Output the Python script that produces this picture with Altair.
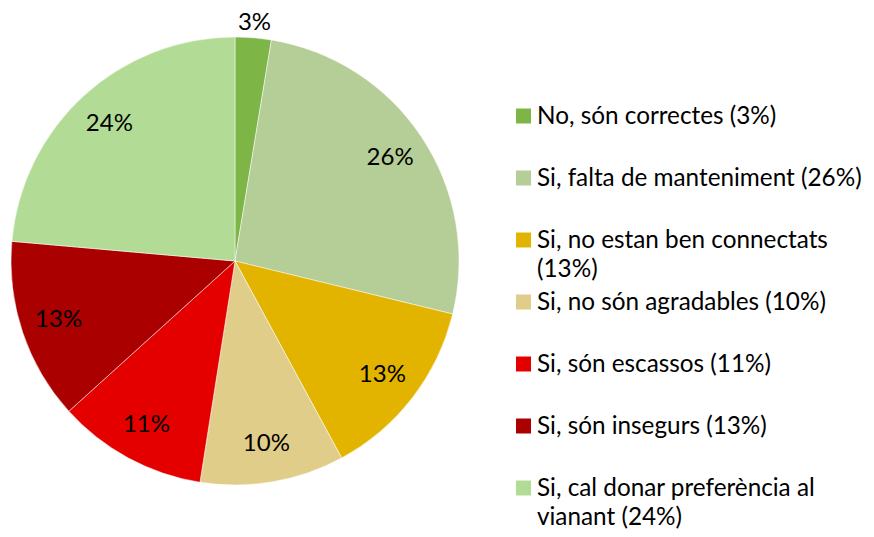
import altair as alt
import pandas as pd

categories = [
    "No, són correctes (3%)",
    "Si, falta de manteniment (26%)",
    "Si, no estan ben connectats\n(13%)",
    "Si, no són agradables  (10%)",
    "Si, són escassos (11%)",
    "Si, són insegurs (13%)",
    "Si, cal donar preferència al\nvianant (24%)",
]
values = [2.6, 26.2, 13.3, 10.4, 10.8, 13.1, 23.6]
pct_labels = ["3%", "26%", "13%", "10%", "11%", "13%", "24%"]
colors = ["#7db647", "#b5cd96", "#e2b400", "#e1cd8a", "#e50000", "#ab0000", "#b2dc95"]

df = pd.DataFrame({
    "cat": categories,
    "value": values,
    "label": pct_labels,
    "order": list(range(len(categories))),
    "outside": [True] + [False] * (len(categories) - 1),
})

# chart origin is at page (8, 18)
CX, CY = 227, 243

base = alt.Chart(df)
color = alt.Color("cat:N", scale=alt.Scale(domain=categories, range=colors), legend=None)
theta = alt.Theta("value:Q", stack=True)
order = alt.Order("order:Q", sort="ascending")

pie = base.mark_arc(outerRadius=224, stroke="white", strokeWidth=0.5).encode(
    theta=theta, color=color, order=order,
    x=alt.value(CX), y=alt.value(CY),
)

inside = base.transform_calculate(
    t="datum.outside ? '' : datum.label"
).mark_text(
    radius=186, font="Lato", fontSize=24, color="black"
).encode(theta=theta, order=order, text="t:N", x=alt.value(CX), y=alt.value(CY))

outside = base.transform_calculate(
    t="datum.outside ? datum.label : ''"
).mark_text(
    radius=239, font="Lato", fontSize=24, color="black"
).encode(theta=theta, order=order, text="t:N", x=alt.value(CX), y=alt.value(CY))

ypos = alt.Y("cat:N", sort=categories, axis=None,
             scale=alt.Scale(type="point", range=[98, 470], padding=0))

leg_sq = base.mark_point(shape="square", filled=True, size=225, opacity=1).encode(
    x=alt.value(515.5), y=ypos, color=color
)
leg_txt = base.mark_text(
    align="left", baseline="alphabetic", dy=8, font="Lato", fontSize=24.3,
    color="black", lineBreak="\n", lineHeight=28.5
).encode(x=alt.value(529), y=ypos, text="cat:N")

chart = alt.layer(pie, inside, outside, leg_sq, leg_txt).properties(
    width=858, height=500, autosize=alt.AutoSizeParams(type="none"),
    padding={"left": 0, "top": 10, "right": 0, "bottom": 11}
).configure_view(stroke=None)

chart.save("out.html", embed_options={"renderer": "svg", "actions": False})
